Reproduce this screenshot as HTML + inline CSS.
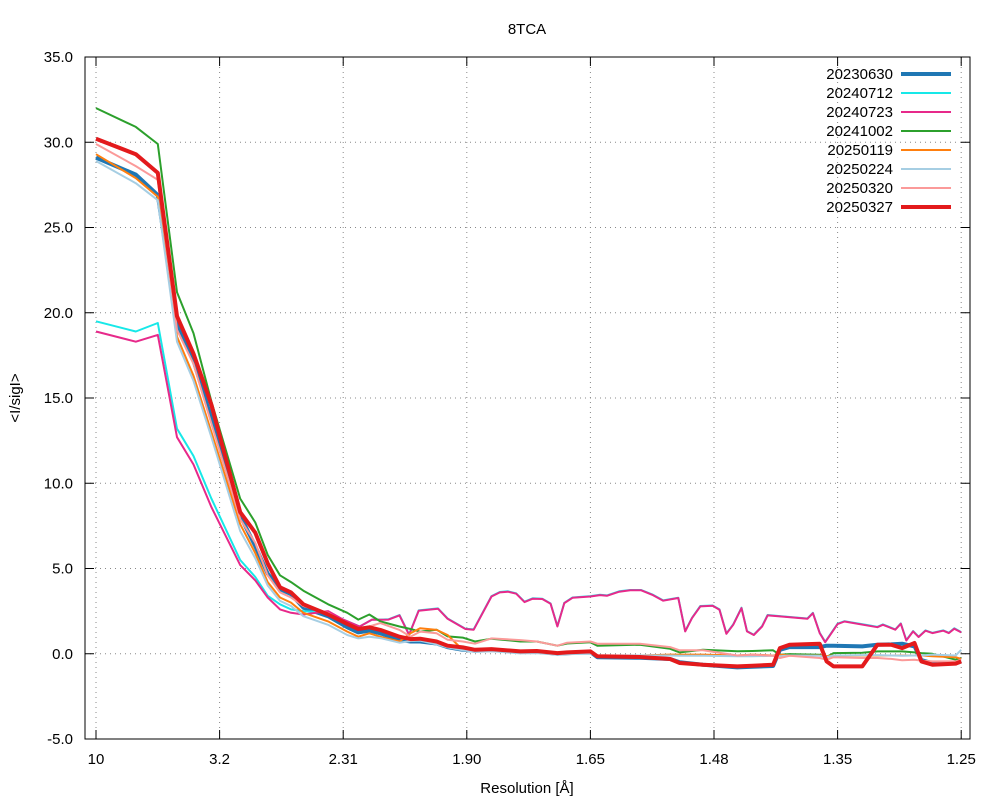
<!DOCTYPE html>
<html><head><meta charset="utf-8"><style>
body{margin:0;background:#fff}
svg text{font-family:"Liberation Sans","DejaVu Sans",sans-serif;font-size:15px;fill:#000}
</style></head><body>
<svg id="chart" width="1000" height="800" xmlns="http://www.w3.org/2000/svg">
<rect width="1000" height="800" fill="#fff"/>
<g id="grid"></g>
<g id="series"></g>
<rect x="85" y="57" width="885" height="682" fill="none" stroke="#000" stroke-width="1"/>
<g id="ticks"></g>
<text x="527" y="34" text-anchor="middle">8TCA</text>
<text x="527" y="793" text-anchor="middle">Resolution [Å]</text>
<text x="20" y="398" text-anchor="middle" transform="rotate(-90 20 398)">&lt;I/sigI&gt;</text>
<g id="legend"></g>
</svg>
<script>
const yTicks=[-5,0,5,10,15,20,25,30,35];
const yTickLabels=["-5.0","0.0","5.0","10.0","15.0","20.0","25.0","30.0","35.0"];
const xTicks=[0.01,0.10,0.19,0.28,0.37,0.46,0.55,0.64];
const xTickLabels=["10","3.2","2.31","1.90","1.65","1.48","1.35","1.25"];
const seriesNames=["20230630","20240712","20240723","20241002","20250119","20250224","20250320","20250327"];
const xFine=[0.010,0.039,0.055,0.069,0.081,0.094,0.115,0.126,0.135,0.144,0.152,0.161,0.179,0.190,0.202,0.211,
0.217,0.223,0.231,0.238,0.245,0.259,0.266,0.279,0.285,0.298,0.304,0.310,0.316,0.322,0.328,0.335,0.341,0.346,0.351,0.357,0.370,0.377,0.382,0.391,0.399,0.407,0.415,0.423,0.434,
0.439,0.444,0.450,0.459,0.464,0.469,0.474,0.480,0.484,0.489,0.495,0.499,0.508,0.528,0.532,0.537,0.541,0.550,0.555,0.573,0.579,0.583,0.592,0.596,0.600,0.605,0.609,0.614,0.619,0.627,0.631,0.635,0.640];
const magentaVals=[18.9,18.3,18.7,12.7,11.1,8.6,5.2,4.3,3.3,2.6,2.4,2.3,2.5,2.0,1.6,2.0,
1.99,2.0,2.25,1.11,2.52,2.64,2.05,1.45,1.41,3.36,3.6,3.64,3.52,3.03,3.23,3.21,2.93,1.6,2.97,3.28,3.36,3.44,3.4,3.64,3.72,3.72,3.46,3.11,3.27,
1.31,2.09,2.78,2.81,2.58,1.17,1.70,2.68,1.31,1.10,1.6,2.25,2.19,2.05,2.38,1.21,0.68,1.74,1.89,1.64,1.56,1.7,1.41,1.76,0.78,1.31,0.98,1.35,1.21,1.35,1.21,1.47,1.25];
const cyanVals=[19.5,18.9,19.4,13.2,11.6,9.1,5.5,4.5,3.4,2.9,2.6,2.5,2.4,2.0,1.6,2.0,
2.0,2.02,2.27,1.13,2.54,2.66,2.07,1.47,1.43,3.38,3.62,3.66,3.54,3.05,3.25,3.23,2.95,1.62,2.99,3.3,3.38,3.46,3.42,3.66,3.74,3.74,3.48,3.13,3.29,
1.33,2.11,2.8,2.83,2.6,1.19,1.72,2.7,1.33,1.12,1.62,2.27,2.21,2.07,2.4,1.23,0.7,1.76,1.91,1.66,1.58,1.72,1.43,1.78,0.8,1.33,1.0,1.37,1.23,1.37,1.23,1.49,1.27];
const xCoarse=[0.010,0.039,0.055,0.069,0.081,0.094,0.115,0.126,0.135,0.144,0.152,0.161,0.179,0.193,0.201,0.209,
0.217,0.231,0.239,0.246,0.258,0.266,0.277,0.286,0.298,0.319,0.331,0.346,0.353,0.370,0.375,0.406,0.428,0.435,0.452,0.477,0.488,0.503,0.508,0.515,0.537,0.542,0.547,0.568,0.579,0.589,0.597,0.606,0.611,0.619,0.636,0.640];
const blueVals=[29.1,28.1,26.9,19.4,17.2,13.8,8.1,6.3,4.7,3.8,3.5,2.7,2.2,1.55,1.25,1.35,
1.2,0.82,0.72,0.72,0.6,0.39,0.23,0.18,0.22,0.1,0.12,0.0,0.03,0.1,-0.2,-0.24,-0.31,-0.5,-0.64,-0.8,-0.76,-0.72,0.23,0.39,0.39,0.47,0.47,0.43,0.53,0.55,0.59,0.43,-0.37,-0.56,-0.56,-0.45];
const greenVals=[32.0,30.9,29.9,21.2,18.8,14.8,9.1,7.7,5.8,4.6,4.2,3.7,2.9,2.4,2.0,2.3,
1.9,1.6,1.45,1.3,1.41,1.02,0.95,0.72,0.88,0.72,0.72,0.47,0.6,0.67,0.47,0.53,0.29,0.08,0.23,0.15,0.16,0.20,-0.06,-0.02,-0.06,-0.19,0.04,0.06,0.14,0.14,0.14,0.08,0.04,0.0,-0.35,-0.25];
const orangeVals=[29.3,27.9,26.8,18.6,16.3,13.0,7.6,5.9,4.2,3.3,3.0,2.4,1.9,1.3,1.0,1.2,
1.0,0.72,1.2,1.5,1.4,1.1,0.23,0.2,0.25,0.12,0.14,0.02,0.06,0.1,-0.1,-0.1,-0.05,-0.05,-0.05,-0.1,-0.05,-0.1,-0.05,-0.1,-0.1,-0.15,-0.1,-0.1,-0.1,-0.1,-0.1,-0.1,-0.1,-0.15,-0.2,-0.3];
const lightBlueVals=[28.9,27.6,26.6,18.3,16.0,12.7,7.2,5.6,4.0,3.1,2.8,2.2,1.7,1.1,0.9,1.0,
0.92,0.65,0.75,0.77,0.55,0.37,0.2,0.1,0.15,0.02,0.04,-0.05,-0.02,0.0,-0.1,-0.1,-0.1,-0.12,-0.12,-0.15,-0.15,-0.12,-0.15,-0.1,-0.12,-0.2,-0.1,-0.08,-0.08,-0.1,-0.12,-0.1,-0.1,-0.05,-0.1,0.23];
const pinkVals=[29.9,28.6,27.8,19.0,17.0,13.5,7.9,6.5,4.6,3.6,3.3,2.8,2.4,1.7,1.5,1.6,
1.8,1.4,1.0,1.3,1.2,0.82,0.72,0.59,0.9,0.8,0.72,0.47,0.65,0.72,0.59,0.59,0.39,0.2,0.2,-0.1,-0.06,-0.12,-0.25,-0.12,-0.25,-0.35,-0.2,-0.25,-0.25,-0.3,-0.38,-0.35,-0.4,-0.45,-0.45,-0.35];
const redVals=[30.2,29.3,28.2,19.8,17.6,14.6,8.3,7.1,5.3,3.9,3.6,2.9,2.3,1.75,1.45,1.55,
1.4,1.0,0.86,0.88,0.72,0.47,0.37,0.23,0.27,0.14,0.16,0.04,0.08,0.14,-0.15,-0.19,-0.31,-0.54,-0.64,-0.74,-0.70,-0.64,0.33,0.53,0.59,-0.45,-0.74,-0.74,0.53,0.53,0.33,0.63,-0.45,-0.64,-0.58,-0.45];

const X0=85,X1=970,Y0=57,Y1=739;
const sMin=0.01-11*0.09/123.6, sMax=0.01+874*0.09/123.6;
function xs(s){return X0+(s-sMin)/(sMax-sMin)*(X1-X0);}
function ys(v){return Y1-(v+5)/40*(Y1-Y0);}
const NS="http://www.w3.org/2000/svg";
function mk(t,a,p){const e=document.createElementNS(NS,t);for(const k in a)e.setAttribute(k,a[k]);p.appendChild(e);return e;}
const grid=document.getElementById('grid'),ticks=document.getElementById('ticks');
yTicks.forEach((v,i)=>{const y=ys(v);
 if(i>0&&i<yTicks.length-1){const g=mk('line',{x1:X0,x2:X1,y1:y,y2:y,stroke:'#888','stroke-dasharray':'1,4','stroke-width':1},grid);
 
 }
 const t1=mk('line',{x1:X0,x2:X0+9,y1:y,y2:y,stroke:'#000'},ticks);
 
 
 const t2=mk('line',{x1:X1-9,x2:X1,y1:y,y2:y,stroke:'#000'},ticks);
 
 
 const tx=mk('text',{x:X0-12,y:y+5,'text-anchor':'end'},ticks);tx.textContent=yTickLabels[i];
 
 
});
xTicks.forEach((s,i)=>{const x=xs(s);
 const g=mk('line',{x1:x,x2:x,y1:Y0,y2:Y1,stroke:'#888','stroke-dasharray':'1,4','stroke-width':1},grid);
 
 
 const t1=mk('line',{x1:x,x2:x,y1:Y1-9,y2:Y1,stroke:'#000'},ticks);
 
 
 const t2=mk('line',{x1:x,x2:x,y1:Y0,y2:Y0+9,stroke:'#000'},ticks);
 
 
 const tx=mk('text',{x:x,y:Y1+25,'text-anchor':'middle'},ticks);tx.textContent=xTickLabels[i];
 
 
});
const defs=[[xCoarse,blueVals,'#1f77b4',4],[xFine,cyanVals,'#17e8e8',2],[xFine,magentaVals,'#e7298a',2],[xCoarse,greenVals,'#2ca02c',2],
[xCoarse,orangeVals,'#ff7f0e',2],[xCoarse,lightBlueVals,'#a6cee3',2],[xCoarse,pinkVals,'#fb9a99',2],[xCoarse,redVals,'#e31a1c',4]];
const sg=document.getElementById('series'),lg=document.getElementById('legend');
defs.forEach((d,i)=>{
 const pts=d[1].map((v,j)=>xs(d[0][j]).toFixed(1)+','+ys(v).toFixed(1)).join(' ');
 const p=mk('polyline',{points:pts,fill:'none',stroke:d[2],'stroke-width':d[3],'stroke-linejoin':'round'},sg);
 
 
 const y=74+i*19;
 const t=mk('text',{x:893,y:y+5,'text-anchor':'end'},lg);t.textContent=seriesNames[i];
 
 
 const l=mk('line',{x1:901,x2:951,y1:y,y2:y,stroke:d[2],'stroke-width':d[3]},lg);
 
 
});
</script>
</body></html>
